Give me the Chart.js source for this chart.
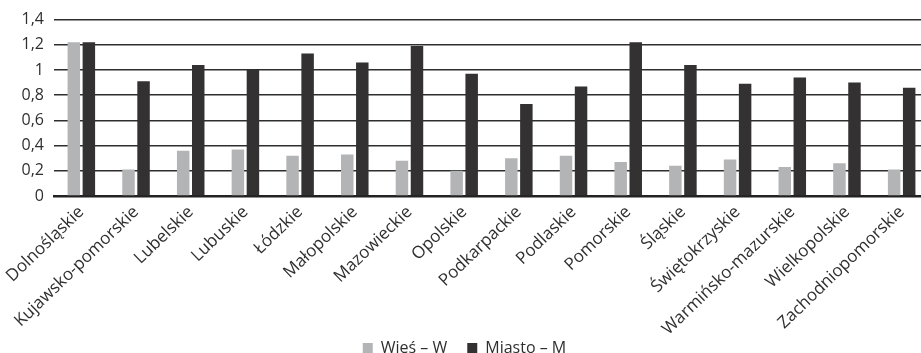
<!DOCTYPE html>
<html>
<head>
<meta charset="utf-8">
<script src="https://cdn.jsdelivr.net/npm/chart.js@4"></script>
<style>
  html, body { margin: 0; padding: 0; background: #fff; overflow: hidden; }
  #wrap { width: 930px; height: 366px; }
</style>
</head>
<body>
<div id="wrap"><canvas id="myBarChart" width="930" height="366"></canvas></div>
<script>
// województwa
var regions = ['Dolnośląskie', 'Kujawsko-pomorskie', 'Lubelskie', 'Lubuskie', 'Łódzkie',
	'Małopolskie', 'Mazowieckie', 'Opolskie', 'Podkarpackie', 'Podlaskie', 'Pomorskie',
	'Śląskie', 'Świętokrzyskie', 'Warmińsko-mazurskie', 'Wielkopolskie', 'Zachodniopomorskie'];
// Wieś - W
var wiesValues = [1.22, 0.21, 0.36, 0.37, 0.32, 0.33, 0.28, 0.2, 0.3, 0.32, 0.27, 0.24, 0.29, 0.23, 0.26, 0.21];
// Miasto - M
var miastoValues = [1.22, 0.91, 1.04, 1.0, 1.13, 1.06, 1.19, 0.97, 0.73, 0.87, 1.22, 1.04, 0.89, 0.94, 0.9, 0.86];
var yMax = 1.4;
var yStep = 0.2;

var fontFamily = '"Open Sans", "Noto Sans", sans-serif';
var textColor = '#2f2f2f';

var ctx = document.getElementById('myBarChart').getContext('2d');
var myChart = new Chart(ctx, {
	type: 'bar',
	data: {
		labels: regions,
		datasets: [
			{
				label: 'Wieś – W',
				data: wiesValues,
				backgroundColor: '#b3b4b6',
				categoryPercentage: 0.55,
				barPercentage: 0.83
			},
			{
				label: 'Miasto – M',
				data: miastoValues,
				backgroundColor: '#333132',
				categoryPercentage: 0.55,
				barPercentage: 0.83
			}
		]
	},
	options: {
		responsive: false,
		animation: false,
		layout: {
			padding: { top: 18, right: 1, bottom: 0, left: 0 }
		},
		scales: {
			x: {
				afterFit: function(scale) {
					scale.height = 124;
					// long labels run into the legend area, don't clip them
					scale._computeLabelArea = function() { return undefined; };
				},
				grid: { display: false, drawTicks: false },
				border: { display: true, color: '#222222', width: 2.5 },
				ticks: {
					color: textColor,
					font: { family: fontFamily, size: 17 },
					minRotation: 44,
					maxRotation: 44,
					padding: 6,
					autoSkip: false
				}
			},
			y: {
				min: 0,
				max: yMax,
				afterFit: function(scale) { scale.width = 54; },
				grid: { color: '#2e2e2e', lineWidth: 1.5, drawTicks: false },
				border: { display: false },
				ticks: {
					stepSize: yStep,
					color: textColor,
					padding: 10,
					font: { family: fontFamily, size: 16 },
					callback: function(v) {
						return (Math.round(v * 10) / 10).toString().replace('.', ',');
					}
				}
			}
		},
		plugins: {
			title: { display: false },
			tooltip: { enabled: false },
			legend: {
				display: true,
				position: 'bottom',
				labels: {
					color: textColor,
					font: { family: fontFamily, size: 16 },
					boxWidth: 10,
					boxHeight: 10,
					padding: 20
				}
			}
		}
	}
});
</script>
</body>
</html>
